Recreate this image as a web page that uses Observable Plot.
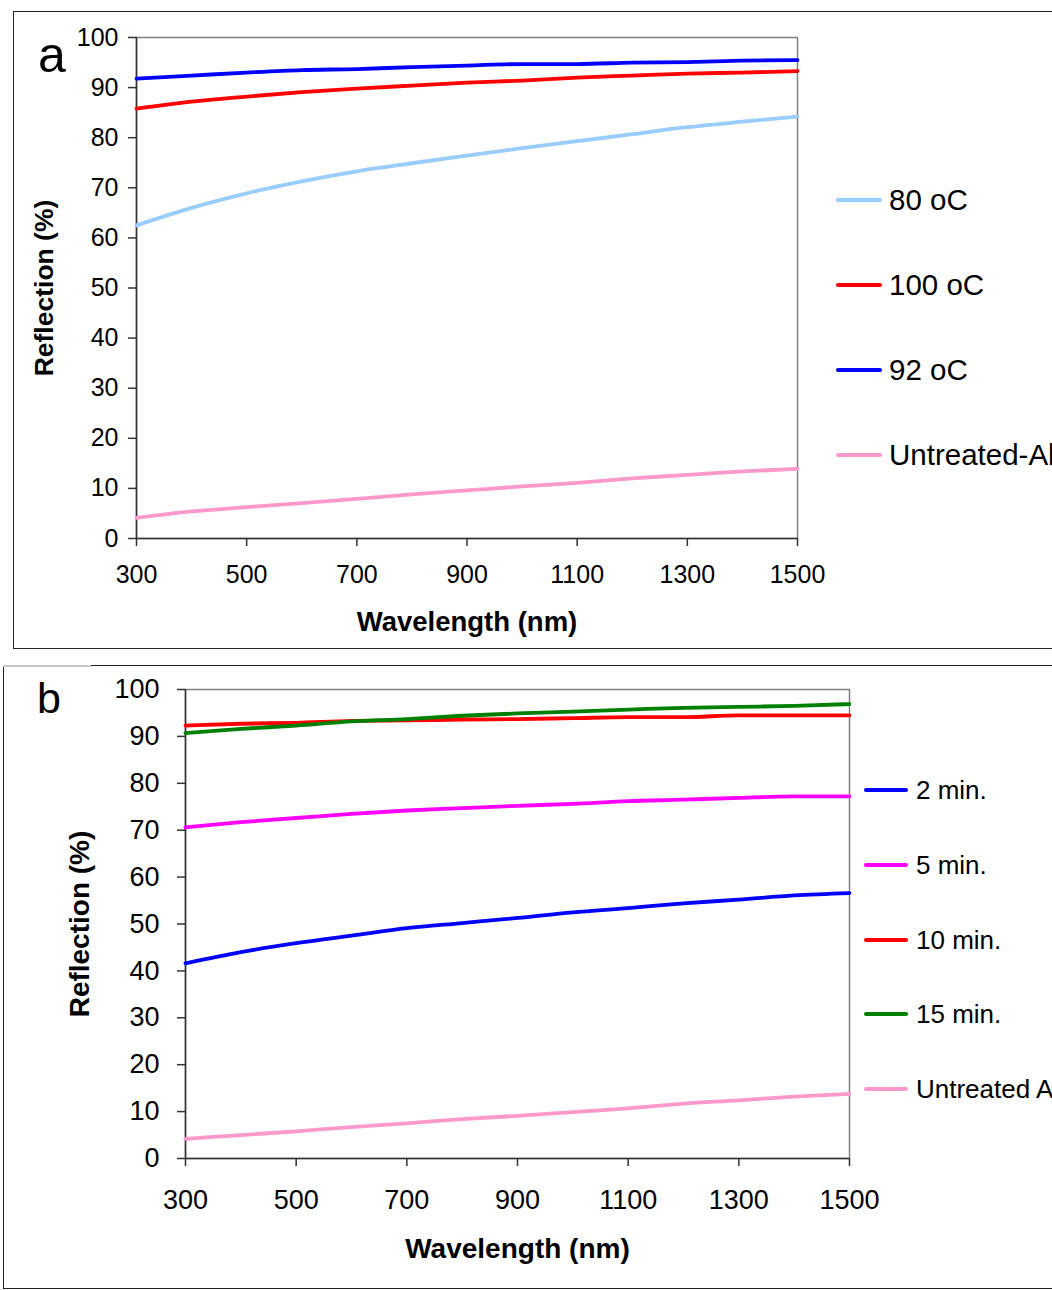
<!DOCTYPE html>
<html><head><meta charset="utf-8">
<script src="https://cdn.jsdelivr.net/npm/d3@7"></script>
<script src="https://cdn.jsdelivr.net/npm/@observablehq/plot@0.6"></script>
<style>
body{margin:0;background:#fff;}
#page{position:relative;width:1052px;height:1290px;overflow:hidden;font-family:"Liberation Sans",Arial,Helvetica,sans-serif;color:#000;background:#fff;}
.frame{position:absolute;border:1.5px solid #222;box-sizing:border-box;}
.abs{position:absolute;}
.plotwrap{position:absolute;left:0;}
.leg{position:absolute;display:flex;align-items:center;white-space:nowrap;line-height:1;}
.sw{display:inline-block;height:4px;border-radius:2px;}
.panel-letter{position:absolute;line-height:1;}
</style></head><body><div id="page"></div>
<script>
// ---------- data ----------
const wavelength = [300, 400, 500, 600, 700, 800, 900, 1000, 1100, 1200, 1300, 1400, 1500];
const xTicks = [300, 500, 700, 900, 1100, 1300, 1500];
const yTicks = [0, 10, 20, 30, 40, 50, 60, 70, 80, 90, 100];

// panel a
const seriesA = ["80 oC", "100 oC", "92 oC", "Untreated-Al"];
const colorsA = ["#99CCFF", "#FF0000", "#0000FF", "#FF99CC"];
const a80 = [62.5, 66.0, 68.9, 71.3, 73.3, 74.9, 76.4, 77.9, 79.3, 80.7, 82.1, 83.2, 84.2];
const a100 = [85.8, 87.2, 88.2, 89.1, 89.8, 90.4, 91.0, 91.4, 92.0, 92.4, 92.8, 93.0, 93.3];
const a92 = [91.8, 92.4, 93.0, 93.5, 93.7, 94.1, 94.4, 94.7, 94.7, 95.0, 95.1, 95.4, 95.5];
const aUntreated = [4.1, 5.4, 6.25, 7.05, 7.9, 8.8, 9.6, 10.4, 11.1, 12.0, 12.7, 13.4, 13.9];

// panel b
const seriesB = ["2 min.", "5 min.", "10 min.", "15 min.", "Untreated Al"];
const colorsB = ["#0000FF", "#FF00FF", "#FF0000", "#008000", "#FF99CC"];
const b2 = [41.6, 44.0, 45.9, 47.5, 49.1, 50.2, 51.3, 52.5, 53.4, 54.4, 55.2, 56.1, 56.6];
const b5 = [70.6, 71.7, 72.6, 73.5, 74.2, 74.7, 75.2, 75.6, 76.2, 76.5, 76.9, 77.2, 77.2];
const b10 = [92.3, 92.7, 92.9, 93.3, 93.4, 93.6, 93.7, 93.9, 94.1, 94.1, 94.5, 94.5, 94.5];
const b15 = [90.7, 91.6, 92.3, 93.2, 93.7, 94.4, 94.9, 95.3, 95.7, 96.1, 96.3, 96.5, 96.9];
const bUntreated = [4.2, 5.0, 5.8, 6.7, 7.5, 8.4, 9.1, 9.9, 10.7, 11.7, 12.4, 13.2, 13.8];

const xTitle = "Wavelength (nm)";
const yTitle = "Reflection (%)";

// ---------- helpers ----------
function tidy(names, arrays) {
  const rows = [];
  names.forEach((n, i) => arrays[i].forEach((v, j) => rows.push({series: n, wl: wavelength[j], r: v})));
  return rows;
}
const page = document.getElementById("page");
function el(tag, cls, css, text) {
  const e = document.createElement(tag);
  if (cls) e.className = cls;
  Object.assign(e.style, css || {});
  if (text != null) e.textContent = text;
  page.appendChild(e);
  return e;
}

function makePanel(o) {
  const data = tidy(o.names, o.arrays);
  const chart = Plot.plot({
    width: 1052,
    height: o.height,
    marginLeft: o.ml, marginRight: o.mr, marginTop: o.mt, marginBottom: o.mb,
    style: {background: "none", fontFamily: '"Liberation Sans", Arial, sans-serif', color: "#000", overflow: "visible"},
    x: {domain: [300, 1500], label: null},
    y: {domain: [0, 100], label: null},
    color: {domain: o.names, range: o.colors},
    marks: [
      Plot.frame({stroke: "#808080", strokeWidth: 1.5}),
      Plot.axisY({ticks: yTicks, tickSize: o.tickSize, tickPadding: o.yPad, fontSize: o.tickFont, tickFormat: d => String(d), stroke: "#333", strokeWidth: 1.5, label: null}),
      Plot.axisX({ticks: xTicks, tickSize: o.tickSize, tickPadding: o.xPad, fontSize: o.tickFont, tickFormat: d => String(d), stroke: "#333", strokeWidth: 1.5, label: null}),
      Plot.ruleX([300], {stroke: "#333", strokeWidth: 1.5}),
      Plot.ruleY([0], {stroke: "#333", strokeWidth: 1.5}),
      Plot.line(data, {x: "wl", y: "r", z: "series", stroke: "series", strokeWidth: 3.8, curve: "monotone-x"}),
      Plot.text([xTitle], {frameAnchor: "bottom", textAnchor: "middle", lineAnchor: "middle", dy: o.xTitleDy, fontSize: o.xTitleFont, fontWeight: "bold", text: d => d}),
      Plot.text([yTitle], {frameAnchor: "left", textAnchor: "middle", lineAnchor: "middle", dx: o.yTitleDx, rotate: -90, fontSize: o.titleFont, fontWeight: "bold", text: d => d})
    ]
  });
  const wrap = el("div", "plotwrap", {top: o.top + "px"});
  wrap.appendChild(chart);
  // legend
  o.names.forEach((n, i) => {
    const cy = o.legTop + i * o.legStep;
    const row = el("div", "leg", {left: o.legLeft + "px", top: (cy - o.legFont / 2) + "px", height: o.legFont + "px", fontSize: o.legFont + "px"});
    const sw = document.createElement("span");
    sw.className = "sw";
    sw.style.width = o.swW + "px";
    sw.style.background = o.colors[i];
    sw.style.marginRight = o.swGap + "px";
    row.appendChild(sw);
    const t = document.createElement("span");
    t.textContent = n;
    row.appendChild(t);
  });
}

// ---------- frames ----------
el("div", "frame", {left: "13px", top: "11px", width: "1100px", height: "638px"});
el("div", "frame", {left: "3px", top: "665px", width: "1100px", height: "624px"});
el("div", "abs", {left: "3px", top: "665px", width: "88px", height: "1.5px", background: "#c8c8c8"});

// ---------- panels ----------
makePanel({
  names: seriesA, arrays: [a80, a100, a92, aUntreated], colors: colorsA,
  top: 0, height: 650, ml: 136, mr: 255, mt: 37, mb: 112,
  tickSize: 8, yPad: 10, xPad: 19, tickFont: 25, titleFont: 26.5, xTitleFont: 27.5, xTitleDy: 84, yTitleDx: -92,
  legLeft: 836, legTop: 200, legStep: 85, legFont: 29.5, swW: 46, swGap: 7
});
makePanel({
  names: seriesB, arrays: [b2, b5, b10, b15, bUntreated], colors: colorsB,
  top: 660, height: 630, ml: 185, mr: 203, mt: 29, mb: 132,
  tickSize: 8, yPad: 18, xPad: 23, tickFont: 27, titleFont: 28, xTitleFont: 28, xTitleDy: 91, yTitleDx: -105,
  legLeft: 864, legTop: 790, legStep: 74.75, legFont: 26, swW: 44, swGap: 8
});

el("div", "panel-letter", {left: "38px", top: "30px", fontSize: "50px"}, "a");
el("div", "panel-letter", {left: "37px", top: "677px", fontSize: "43px"}, "b");
</script>
</body></html>
